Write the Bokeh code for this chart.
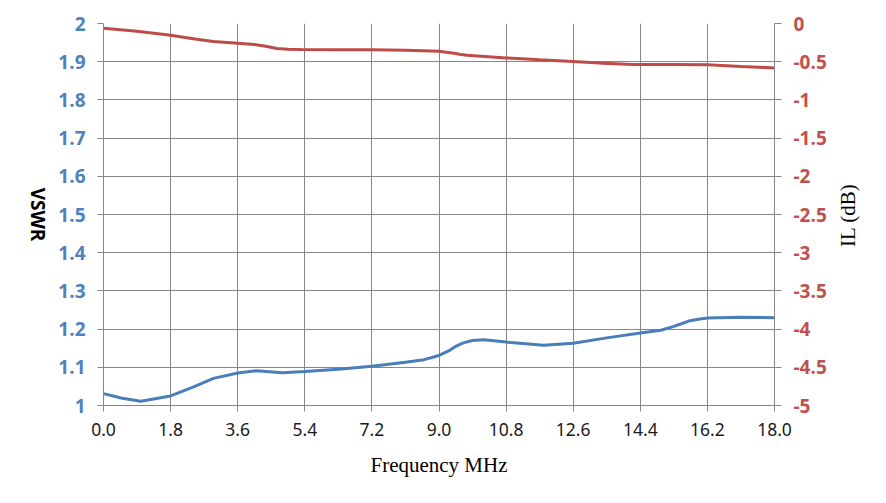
import math
from bokeh.plotting import figure
from bokeh.models import Range1d, LinearAxis, FixedTicker, Label
from bokeh.embed import file_html
from bokeh.resources import INLINE

# ---- data ----
vswr_freq = [0, 0.5, 1.0, 1.8, 2.4, 2.95, 3.6, 4.1, 4.8, 5.4, 6.3, 7.2, 8.1, 8.6, 9.0, 9.3,
             9.45, 9.65, 9.9, 10.2, 10.8, 11.8, 12.6, 13.5, 14.4, 14.95, 15.3, 15.5, 15.7,
             15.95, 16.2, 17.1, 18.0]
vswr_vals = [1.031, 1.019, 1.011, 1.025, 1.048, 1.071, 1.085, 1.091, 1.086, 1.089, 1.095,
             1.103, 1.113, 1.120, 1.131, 1.145, 1.155, 1.164, 1.170, 1.172, 1.166, 1.158,
             1.163, 1.177, 1.190, 1.197, 1.207, 1.214, 1.221, 1.226, 1.229, 1.231, 1.230]

il_freq = [0, 0.9, 1.8, 2.5, 2.95, 3.6, 4.05, 4.35, 4.65, 4.95, 5.3, 6.3, 7.2, 8.1, 9.0,
           9.2, 9.4, 9.55, 9.75, 10.8, 11.7, 12.6, 13.4, 14.2, 15.3, 16.2, 17.1, 18.0]
il_vals = [-0.062, -0.100, -0.153, -0.205, -0.236, -0.258, -0.275, -0.298, -0.327, -0.336,
           -0.341, -0.343, -0.345, -0.350, -0.363, -0.375, -0.390, -0.403, -0.415, -0.450,
           -0.475, -0.498, -0.520, -0.537, -0.538, -0.541, -0.562, -0.581]

x_ticks = [0.0, 1.8, 3.6, 5.4, 7.2, 9.0, 10.8, 12.6, 14.4, 16.2, 18.0]
x_tick_labels = ["0.0", "1.8", "3.6", "5.4", "7.2", "9.0", "10.8", "12.6", "14.4", "16.2", "18.0"]
left_ticks = [1.0, 1.1, 1.2, 1.3, 1.4, 1.5, 1.6, 1.7, 1.8, 1.9, 2.0]
left_tick_labels = ["1", "1.1", "1.2", "1.3", "1.4", "1.5", "1.6", "1.7", "1.8", "1.9", "2"]
right_ticks = [-5.0, -4.5, -4.0, -3.5, -3.0, -2.5, -2.0, -1.5, -1.0, -0.5, 0.0]
right_tick_labels = ["-5", "-4.5", "-4", "-3.5", "-3", "-2.5", "-2", "-1.5", "-1", "-0.5", "0"]
x_title = "Frequency MHz"
left_title = "VSWR"
right_title = "IL (dB)"

BLUE = "#4A7EBB"
RED = "#BE4B48"
GRID = "#878787"
TICK_BLUE = "#4F81BD"
TICK_RED = "#C0504D"

p = figure(width=870, height=487, output_backend="svg", toolbar_location=None,
           x_range=Range1d(0, 18), y_range=Range1d(1, 2),
           min_border_left=103, min_border_right=96, min_border_top=23, min_border_bottom=82,
           x_axis_label=x_title)
p.extra_y_ranges = {"il": Range1d(-5, 0)}
p.outline_line_color = None
p.background_fill_color = "white"
p.border_fill_color = "white"

p.line(vswr_freq, vswr_vals, line_color=BLUE, line_width=3)
p.line(il_freq, il_vals, line_color=RED, line_width=3, y_range_name="il")

# x axis
xa = p.xaxis[0]
xa.ticker = FixedTicker(ticks=x_ticks, minor_ticks=[])
xa.major_label_overrides = {t: l for t, l in zip(x_ticks, x_tick_labels)}
xa.major_label_text_font = "Noto Sans"
xa.major_label_text_font_size = "17.5px"
xa.major_label_text_color = "#1a1a1a"
xa.major_label_standoff = 11
xa.major_tick_out = 6
xa.major_tick_in = 0
xa.axis_line_color = GRID
xa.major_tick_line_color = GRID
xa.axis_label_text_font = "Liberation Serif"
xa.axis_label_text_font_style = "normal"
xa.axis_label_text_font_size = "21px"
xa.axis_label_text_color = "black"
xa.axis_label_standoff = 14

# left axis
ya = p.yaxis[0]
ya.ticker = FixedTicker(ticks=left_ticks, minor_ticks=[])
ya.major_label_overrides = {t: l for t, l in zip(left_ticks, left_tick_labels)}
ya.major_label_text_font = "Open Sans"
ya.major_label_text_font_style = "bold"
ya.major_label_text_font_size = "19px"
ya.major_label_text_color = TICK_BLUE
ya.major_label_standoff = 12
ya.major_tick_out = 6
ya.major_tick_in = 0
ya.axis_line_color = GRID
ya.major_tick_line_color = GRID

# right axis
ra = LinearAxis(y_range_name="il")
ra.ticker = FixedTicker(ticks=right_ticks, minor_ticks=[])
ra.major_label_overrides = {t: l for t, l in zip(right_ticks, right_tick_labels)}
ra.major_label_text_font = "Open Sans"
ra.major_label_text_font_style = "bold"
ra.major_label_text_font_size = "19px"
ra.major_label_text_color = TICK_RED
ra.major_label_standoff = 12
ra.major_tick_out = 7
ra.major_tick_in = 0
ra.axis_line_color = GRID
ra.major_tick_line_color = GRID
p.add_layout(ra, "right")

# rotated axis titles, placed in side panels (not clipped), positioned in data units
p.add_layout(Label(x=-1.77, y=1.5, text=left_title,
                   angle=-math.pi / 2, text_align="center", text_baseline="middle",
                   text_font="Open Sans", text_font_style="bold", text_font_size="19px",
                   text_color="black"), "left")
p.add_layout(Label(x=19.97, y=1.498, text=right_title,
                   angle=math.pi / 2, text_align="center", text_baseline="middle",
                   text_font="Liberation Serif", text_font_size="21px",
                   text_color="black"), "right")

p.xgrid.grid_line_color = GRID
p.ygrid.grid_line_color = GRID
p.xgrid.grid_line_width = 1
p.ygrid.grid_line_width = 1

open("out.html", "w").write(file_html(p, INLINE))
